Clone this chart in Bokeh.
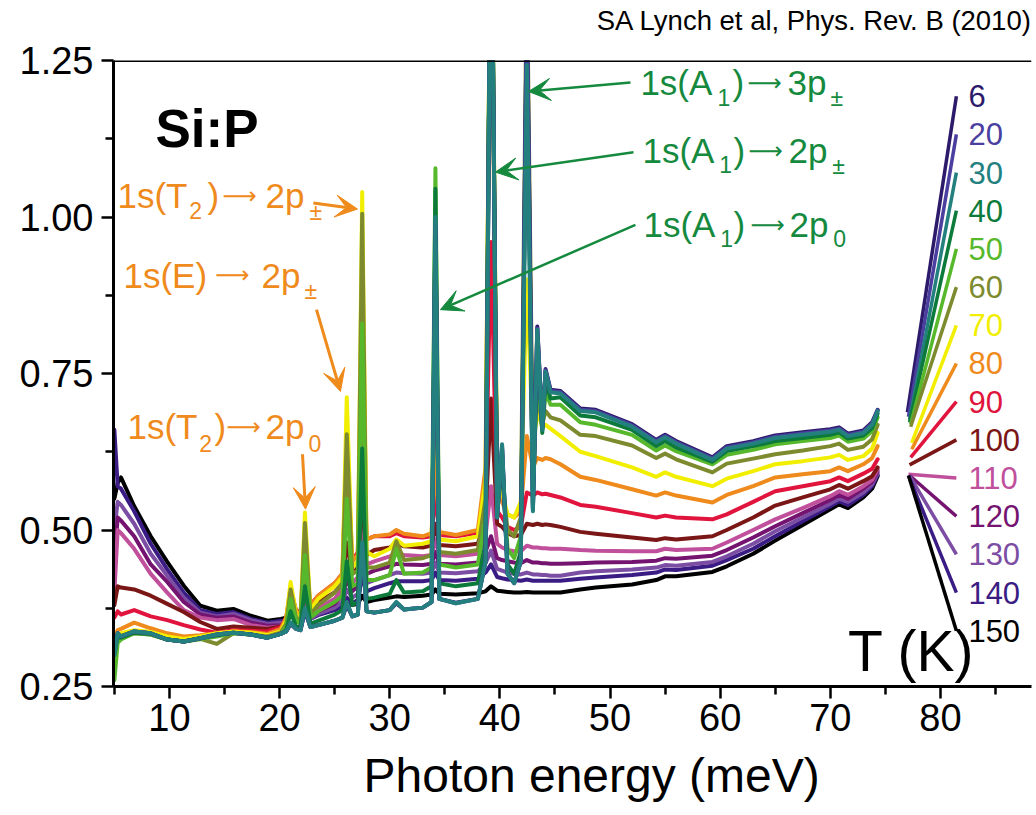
from bokeh.plotting import figure
from bokeh.layouts import column
from bokeh.models import (Range1d, FixedTicker, PrintfTickFormatter, Span,
                          Title, Arrow, VeeHead, ColumnDataSource)
from bokeh.core.properties import value
from bokeh.embed import file_html
from bokeh.resources import INLINE

FONT = "Liberation Sans"

# ---------------- data ----------------
energy = [5.0, 5.3, 5.6, 6.8, 8.3, 9.8, 11.3, 12.8, 14.3, 15.8,
          17.4, 18.9, 20.1, 20.6, 21.0, 21.5, 21.9, 22.3, 22.8, 23.5,
          25.0, 25.7, 26.1, 26.6, 27.1, 27.5, 27.9, 28.6, 30.0, 30.6,
          31.3, 33.0, 33.8, 34.15, 34.5, 36.0, 38.0, 38.7, 39.2, 39.75,
          40.2, 40.7, 41.3, 41.9, 42.45, 43.0, 43.4, 43.85, 44.15, 44.6,
          45.5, 47.3, 48.7, 52.0, 54.2, 55.0, 56.0, 59.3, 60.6, 63.0,
          65.0, 67.5, 70.0, 70.8, 71.6, 73.0, 73.8, 74.3]

temps = ["6", "20", "30", "40", "50", "60", "70", "80", "90", "100",
         "110", "120", "130", "140", "150"]
colors = ["#2d1a6b", "#4a3f9f", "#23807f", "#0b7a3b", "#58b82c", "#7d8a2e",
          "#f2ee00", "#ef8a1c", "#e0143c", "#7a1616", "#c0509c", "#751470",
          "#7b4da3", "#3b1c84", "#000000"]

y6 = [0.31, 0.335, 0.33, 0.338, 0.335, 0.325, 0.322, 0.327, 0.333, 0.336,
      0.333, 0.328, 0.334, 0.338, 0.35, 0.342, 0.34, 0.37, 0.345, 0.348,
      0.355, 0.36, 0.38, 0.362, 0.365, 0.47, 0.37, 0.368, 0.372, 0.383,
      0.373, 0.376, 0.385, 0.98, 0.39, 0.384, 0.39, 0.45, 1.6, 0.52,
      0.63, 0.43, 0.415, 0.45, 1.35, 0.535, 0.825, 0.665, 0.757, 0.724,
      0.722, 0.694, 0.692, 0.669, 0.644, 0.652, 0.642, 0.616, 0.634, 0.642,
      0.651, 0.656, 0.661, 0.664, 0.654, 0.659, 0.672, 0.692]
y20 = [0.31, 0.335, 0.33, 0.338, 0.335, 0.325, 0.322, 0.327, 0.333, 0.336,
       0.333, 0.328, 0.334, 0.338, 0.351, 0.342, 0.34, 0.372, 0.345, 0.348,
       0.355, 0.36, 0.383, 0.362, 0.365, 0.475, 0.37, 0.368, 0.372, 0.384,
       0.373, 0.376, 0.385, 0.99, 0.39, 0.383, 0.39, 0.45, 1.6, 0.52,
       0.634, 0.43, 0.415, 0.45, 1.35, 0.532, 0.822, 0.662, 0.755, 0.722,
       0.72, 0.692, 0.69, 0.667, 0.642, 0.65, 0.64, 0.614, 0.632, 0.64,
       0.649, 0.654, 0.659, 0.662, 0.652, 0.657, 0.67, 0.691]
y30 = [0.30, 0.335, 0.33, 0.338, 0.335, 0.325, 0.322, 0.327, 0.333, 0.336,
       0.333, 0.328, 0.334, 0.338, 0.352, 0.342, 0.34, 0.375, 0.345, 0.348,
       0.355, 0.36, 0.385, 0.362, 0.365, 0.48, 0.37, 0.368, 0.372, 0.385,
       0.373, 0.376, 0.385, 1.00, 0.39, 0.383, 0.39, 0.45, 1.6, 0.52,
       0.637, 0.43, 0.415, 0.45, 1.243, 0.53, 0.82, 0.66, 0.753, 0.72,
       0.718, 0.69, 0.688, 0.665, 0.64, 0.648, 0.638, 0.612, 0.63, 0.638,
       0.647, 0.652, 0.657, 0.66, 0.65, 0.655, 0.668, 0.69]
y40 = [0.30, 0.33, 0.328, 0.336, 0.334, 0.325, 0.322, 0.327, 0.332, 0.336,
       0.333, 0.328, 0.334, 0.34, 0.37, 0.345, 0.345, 0.41, 0.35, 0.355,
       0.365, 0.372, 0.45, 0.38, 0.385, 0.63, 0.39, 0.392, 0.398, 0.42,
       0.40, 0.402, 0.41, 1.045, 0.415, 0.41, 0.415, 0.48, 1.6, 0.53,
       0.62, 0.445, 0.43, 0.465, 1.3, 0.54, 0.79, 0.655, 0.74, 0.71,
       0.712, 0.683, 0.68, 0.66, 0.634, 0.642, 0.632, 0.609, 0.626, 0.634,
       0.642, 0.647, 0.652, 0.656, 0.646, 0.651, 0.663, 0.686]
y50 = [0.26, 0.32, 0.325, 0.335, 0.333, 0.325, 0.322, 0.326, 0.33, 0.335,
       0.333, 0.328, 0.334, 0.345, 0.39, 0.355, 0.35, 0.46, 0.36, 0.37,
       0.385, 0.395, 0.55, 0.41, 0.415, 0.83, 0.42, 0.42, 0.428, 0.47,
       0.43, 0.432, 0.44, 1.078, 0.445, 0.44, 0.445, 0.52, 1.6, 0.55,
       0.60, 0.47, 0.455, 0.49, 1.3, 0.56, 0.75, 0.66, 0.72, 0.70,
       0.70, 0.672, 0.668, 0.652, 0.627, 0.635, 0.626, 0.605, 0.62, 0.628,
       0.637, 0.642, 0.647, 0.651, 0.641, 0.646, 0.658, 0.68]
y60 = [0.31, 0.325, 0.33, 0.335, 0.333, 0.325, 0.322, 0.326, 0.318, 0.335,
       0.333, 0.33, 0.336, 0.35, 0.405, 0.36, 0.355, 0.511, 0.365, 0.38,
       0.40, 0.415, 0.653, 0.43, 0.435, 1.005, 0.44, 0.44, 0.448, 0.482,
       0.452, 0.455, 0.46, 0.85, 0.465, 0.462, 0.468, 0.55, 1.6, 0.56,
       0.58, 0.50, 0.49, 0.52, 1.4, 0.60, 0.72, 0.67, 0.69, 0.68,
       0.675, 0.652, 0.65, 0.635, 0.615, 0.622, 0.613, 0.592, 0.606, 0.614,
       0.621, 0.627, 0.634, 0.638, 0.628, 0.633, 0.645, 0.668]
y70 = [0.30, 0.33, 0.335, 0.34, 0.337, 0.33, 0.326, 0.33, 0.335, 0.338,
       0.336, 0.332, 0.338, 0.355, 0.417, 0.365, 0.36, 0.528, 0.372, 0.39,
       0.41, 0.425, 0.712, 0.44, 0.45, 1.04, 0.465, 0.458, 0.47, 0.485,
       0.475, 0.478, 0.482, 0.78, 0.485, 0.482, 0.49, 0.58, 1.6, 0.58,
       0.56, 0.525, 0.52, 0.545, 0.90, 0.64, 0.69, 0.665, 0.668, 0.662,
       0.65, 0.625, 0.618, 0.60, 0.585, 0.592, 0.585, 0.57, 0.582, 0.594,
       0.605, 0.61, 0.616, 0.62, 0.612, 0.618, 0.63, 0.655]
y80 = [0.33, 0.34, 0.342, 0.352, 0.343, 0.335, 0.33, 0.332, 0.335, 0.338,
       0.337, 0.334, 0.342, 0.36, 0.41, 0.37, 0.365, 0.48, 0.378, 0.395,
       0.415, 0.43, 0.66, 0.45, 0.46, 0.90, 0.485, 0.49, 0.493, 0.50,
       0.494, 0.49, 0.495, 0.62, 0.497, 0.492, 0.50, 0.60, 1.5, 0.56,
       0.545, 0.525, 0.52, 0.53, 0.65, 0.60, 0.615, 0.612, 0.615, 0.613,
       0.605, 0.585, 0.58, 0.565, 0.555, 0.56, 0.555, 0.544, 0.556, 0.57,
       0.584, 0.589, 0.594, 0.60, 0.594, 0.605, 0.615, 0.634]
y90 = [0.36, 0.37, 0.365, 0.372, 0.362, 0.356, 0.348, 0.341, 0.336, 0.34,
       0.339, 0.338, 0.345, 0.36, 0.40, 0.372, 0.368, 0.44, 0.38, 0.395,
       0.415, 0.43, 0.56, 0.45, 0.465, 0.72, 0.485, 0.49, 0.49, 0.495,
       0.49, 0.488, 0.49, 0.56, 0.492, 0.49, 0.495, 0.55, 0.96, 0.53,
       0.52, 0.505, 0.50, 0.505, 0.56, 0.555, 0.56, 0.557, 0.558, 0.556,
       0.552, 0.54, 0.537, 0.527, 0.52, 0.523, 0.52, 0.517, 0.525, 0.545,
       0.562, 0.57, 0.578, 0.584, 0.578, 0.59, 0.598, 0.613]
y100 = [0.38, 0.41, 0.408, 0.405, 0.395, 0.382, 0.369, 0.353, 0.342, 0.346,
        0.344, 0.342, 0.346, 0.355, 0.38, 0.365, 0.362, 0.40, 0.37, 0.385,
        0.40, 0.415, 0.48, 0.43, 0.44, 0.55, 0.46, 0.468, 0.472, 0.478,
        0.474, 0.472, 0.475, 0.51, 0.476, 0.474, 0.478, 0.52, 0.71, 0.51,
        0.505, 0.495, 0.49, 0.492, 0.51, 0.508, 0.51, 0.508, 0.509, 0.508,
        0.505, 0.497, 0.494, 0.488, 0.484, 0.487, 0.485, 0.49, 0.50, 0.52,
        0.539, 0.552, 0.565, 0.572, 0.566, 0.578, 0.586, 0.60]
y110 = [0.40, 0.50, 0.495, 0.47, 0.43, 0.40, 0.372, 0.36, 0.356, 0.358,
        0.348, 0.344, 0.346, 0.35, 0.372, 0.358, 0.356, 0.385, 0.362, 0.375,
        0.39, 0.405, 0.44, 0.415, 0.425, 0.50, 0.445, 0.45, 0.458, 0.462,
        0.46, 0.458, 0.46, 0.485, 0.46, 0.458, 0.462, 0.49, 0.57, 0.478,
        0.472, 0.468, 0.466, 0.466, 0.475, 0.472, 0.472, 0.471, 0.471, 0.47,
        0.47, 0.468, 0.467, 0.466, 0.466, 0.47, 0.468, 0.47, 0.48, 0.50,
        0.517, 0.535, 0.554, 0.562, 0.556, 0.57, 0.58, 0.597]
y120 = [0.45, 0.52, 0.515, 0.49, 0.445, 0.417, 0.385, 0.365, 0.36, 0.362,
        0.352, 0.347, 0.348, 0.35, 0.368, 0.356, 0.355, 0.378, 0.36, 0.37,
        0.382, 0.395, 0.42, 0.402, 0.41, 0.47, 0.43, 0.435, 0.442, 0.446,
        0.445, 0.444, 0.446, 0.465, 0.446, 0.445, 0.448, 0.465, 0.49, 0.455,
        0.452, 0.45, 0.448, 0.447, 0.452, 0.448, 0.448, 0.447, 0.447, 0.446,
        0.446, 0.447, 0.448, 0.449, 0.451, 0.455, 0.454, 0.459, 0.468, 0.488,
        0.506, 0.527, 0.548, 0.556, 0.55, 0.566, 0.577, 0.594]
y130 = [0.50, 0.545, 0.54, 0.51, 0.462, 0.427, 0.392, 0.368, 0.362, 0.366,
        0.356, 0.35, 0.352, 0.352, 0.366, 0.356, 0.355, 0.372, 0.358, 0.366,
        0.376, 0.385, 0.405, 0.392, 0.398, 0.445, 0.415, 0.42, 0.428, 0.432,
        0.431, 0.43, 0.432, 0.448, 0.432, 0.431, 0.434, 0.447, 0.467, 0.438,
        0.435, 0.432, 0.43, 0.429, 0.432, 0.429, 0.429, 0.428, 0.428, 0.427,
        0.427, 0.432, 0.434, 0.437, 0.44, 0.444, 0.443, 0.449, 0.458, 0.478,
        0.498, 0.52, 0.542, 0.55, 0.545, 0.56, 0.573, 0.591]
y140 = [0.66, 0.57, 0.566, 0.53, 0.478, 0.437, 0.40, 0.372, 0.366, 0.369,
        0.358, 0.352, 0.355, 0.355, 0.366, 0.357, 0.356, 0.368, 0.358, 0.364,
        0.372, 0.378, 0.392, 0.383, 0.388, 0.425, 0.402, 0.407, 0.415, 0.418,
        0.418, 0.418, 0.42, 0.432, 0.42, 0.419, 0.422, 0.432, 0.445, 0.425,
        0.423, 0.421, 0.42, 0.419, 0.421, 0.419, 0.419, 0.419, 0.419, 0.419,
        0.419, 0.422, 0.424, 0.428, 0.432, 0.437, 0.436, 0.443, 0.452, 0.47,
        0.49, 0.514, 0.538, 0.546, 0.54, 0.556, 0.57, 0.588]
y150 = [0.55, 0.575, 0.584, 0.538, 0.49, 0.449, 0.411, 0.379, 0.371, 0.374,
        0.363, 0.355, 0.358, 0.36, 0.366, 0.362, 0.364, 0.37, 0.366, 0.37,
        0.376, 0.378, 0.383, 0.38, 0.382, 0.395, 0.385, 0.388, 0.392, 0.394,
        0.393, 0.395, 0.397, 0.405, 0.398, 0.397, 0.399, 0.402, 0.41, 0.403,
        0.402, 0.401, 0.40, 0.40, 0.401, 0.40, 0.40, 0.40, 0.40, 0.40,
        0.40, 0.405, 0.408, 0.413, 0.42, 0.426, 0.426, 0.433, 0.442, 0.462,
        0.483, 0.508, 0.533, 0.541, 0.535, 0.552, 0.566, 0.586]

series = [y6, y20, y30, y40, y50, y60, y70, y80, y90, y100,
          y110, y120, y130, y140, y150]

# legend key lines (start near curve ends, end at the label)
legend_x0 = [77.0, 77.1, 77.2, 77.2, 77.3, 77.3, 77.4, 77.4, 77.3, 77.2,
             77.1, 77.2, 77.2, 77.1, 77.1]
legend_y0 = [0.688, 0.681, 0.676, 0.672, 0.669, 0.665, 0.639, 0.629, 0.616, 0.604,
             0.589, 0.587, 0.587, 0.587, 0.587]
legend_y1 = [1.193, 1.132, 1.071, 1.010, 0.949, 0.888, 0.827, 0.766, 0.705, 0.644,
             0.583, 0.522, 0.461, 0.400, 0.339]
legend_x1 = 81.45
legend_label_x = 82.54

x_major = [10, 20, 30, 40, 50, 60, 70, 80]
x_minor = [5, 15, 25, 35, 45, 55, 65, 75, 85]
y_major = [0.25, 0.5, 0.75, 1.0, 1.25]
y_minor = [0.375, 0.625, 0.875, 1.125]

ORANGE = "#ef8a1c"
GREEN = "#158a3e"

# annotation text pieces (vertical centres)
main_txt = ["1s(T", ")", "2p",
            "1s(E)", "2p",
            "1s(T", ")", "2p",
            "1s(A", ")", "3p",
            "1s(A", ")", "2p",
            "1s(A", ")", "2p"]
main_x = [5.279, 13.45, 18.716,
          5.823, 18.353,
          6.187, 14.086, 18.716,
          52.76, 61.12, 66.11,
          52.95, 61.21, 66.2,
          53.04, 61.21, 66.29]
main_y = [1.0342] * 3 + [0.9068] * 2 + [0.6648] * 3 + [1.2142] * 3 + [1.1059] * 3 + [0.988] * 3
main_c = [ORANGE] * 8 + [GREEN] * 9

arrow_x = [14.81, 14.15, 15.175, 62.48, 62.57, 62.75]
arrow_y = [1.0342, 0.9068, 0.6648, 1.2142, 1.1059, 0.988]
arrow_c = [ORANGE] * 3 + [GREEN] * 3

sub_txt = ["2", "\u00b1", "\u00b1", "2", "0", "1", "\u00b1", "1", "\u00b1", "1", "0"]
sub_x = [11.8, 22.71, 22.257, 12.7, 22.62, 59.75, 70.01, 59.93, 70.19, 60.02, 70.28]
sub_y = [1.0096, 1.008, 0.8822, 0.6385, 0.6385, 1.1911, 1.1895, 1.0831, 1.0815, 0.965, 0.965]
sub_c = [ORANGE] * 5 + [GREEN] * 6

arrows = [  # x_start, y_start, x_end, y_end, colour
    (23.07, 1.0223, 27.07, 1.0127, ORANGE),
    (23.35, 0.852, 25.53, 0.7213, ORANGE),
    (22.08, 0.621, 22.35, 0.5334, ORANGE),
    (51.86, 1.215, 42.6, 1.2006, GREEN),
    (52.13, 1.1035, 39.6, 1.0717, GREEN),
    (52.31, 0.9873, 34.6, 0.852, GREEN),
]

# ---------------- header strip with the citation ----------------
head = figure(width=1036, height=38, x_range=Range1d(0, 1036), y_range=Range1d(0, 38),
              output_backend="svg", toolbar_location=None,
              x_axis_location=None, y_axis_location=None, min_border=0)
head.xgrid.grid_line_color = None
head.ygrid.grid_line_color = None
head.outline_line_color = None
head.text(x=[1037], y=[18], text=["SA Lynch et al, Phys. Rev. B (2010)"],
          text_align="right", text_baseline="middle", text_color="black",
          text_font=value(FONT), text_font_size=value("27.5px"))

# ---------------- main figure ----------------
p = figure(width=1036, height=777,
           x_range=Range1d(4.92, 88.27), y_range=Range1d(0.25, 1.25),
           output_backend="svg", toolbar_location=None,
           min_border_left=113, min_border_right=5,
           min_border_top=22, min_border_bottom=127)
p.xgrid.grid_line_color = None
p.ygrid.grid_line_color = None
p.outline_line_color = None
p.background_fill_color = "white"
p.border_fill_color = "white"

for ax in (p.xaxis[0], p.yaxis[0]):
    ax.axis_line_width = 3
    ax.axis_line_color = "black"
    ax.major_tick_in = 0
    ax.major_tick_out = 12
    ax.minor_tick_in = 0
    ax.minor_tick_out = 8
    ax.major_tick_line_width = 2.5
    ax.minor_tick_line_width = 2.5
    ax.major_tick_line_color = "black"
    ax.minor_tick_line_color = "black"
    ax.major_label_text_font = FONT
    ax.major_label_text_font_size = "38px"
    ax.major_label_text_color = "black"

p.xaxis[0].ticker = FixedTicker(ticks=x_major, minor_ticks=x_minor)
p.xaxis[0].major_label_standoff = 5
p.yaxis[0].ticker = FixedTicker(ticks=y_major, minor_ticks=y_minor)
p.yaxis[0].formatter = PrintfTickFormatter(format="%.2f")
p.yaxis[0].major_label_standoff = 8

p.add_layout(Span(location=1.25, dimension="width", line_color="black", line_width=3))

# curves: high temperatures first, teal 30 K last
order = list(range(14, 2, -1)) + [0, 1, 2]
for i in order:
    p.line(energy, series[i], line_color=colors[i], line_width=4,
           line_join="round", line_cap="round")

# legend keys
leg = ColumnDataSource(dict(x0=legend_x0, y0=legend_y0,
                            x1=[legend_x1] * len(temps), y1=legend_y1,
                            c=colors, t=temps,
                            lx=[legend_label_x] * len(temps)))
p.segment(x0="x0", y0="y0", x1="x1", y1="y1", line_color="c",
          line_width=3.5, source=leg)
p.text(x="lx", y="y1", text="t", text_color="c", source=leg,
       text_font=value(FONT), text_font_size=value("31px"),
       text_baseline="middle", text_align="left")
p.text(x=[83.1], y=[0.3073], text=["T (K)"], text_color="black",
       text_font=value(FONT), text_font_size=value("57px"),
       text_baseline="middle", text_align="right")

# Si:P
p.text(x=[8.73], y=[1.141], text=["Si:P"], text_color="black",
       text_font=value(FONT), text_font_size=value("53px"),
       text_font_style="bold", text_baseline="middle", text_align="left")

# annotation texts
msrc = ColumnDataSource(dict(x=main_x, y=main_y, t=main_txt, c=main_c))
p.text(x="x", y="y", text="t", text_color="c", source=msrc,
       text_font=value(FONT), text_font_size=value("35px"),
       text_baseline="middle", text_align="left")
asrc = ColumnDataSource(dict(x=arrow_x, y=arrow_y, t=["\u27f6"] * 6, c=arrow_c))
p.text(x="x", y="y", text="t", text_color="c", source=asrc,
       text_font=value("DejaVu Sans"), text_font_size=value("24px"),
       text_baseline="middle", text_align="left")
ssrc = ColumnDataSource(dict(x=sub_x, y=sub_y, t=sub_txt, c=sub_c))
p.text(x="x", y="y", text="t", text_color="c", source=ssrc,
       text_font=value(FONT), text_font_size=value("23px"),
       text_baseline="middle", text_align="left")

for xs, ys, xe, ye, col in arrows:
    p.add_layout(Arrow(end=VeeHead(size=22, fill_color=col, line_color=col),
                       x_start=xs, y_start=ys, x_end=xe, y_end=ye,
                       line_color=col, line_width=3 if col == ORANGE else 2.5))

p.add_layout(Title(text="Photon energy (meV)", align="left", offset=250,
                   text_font=FONT, text_font_size="48px", text_font_style="normal",
                   text_color="black", standoff=27), "below")

layout = column(head, p, spacing=0)
open("out.html", "w").write(file_html(layout, INLINE))
